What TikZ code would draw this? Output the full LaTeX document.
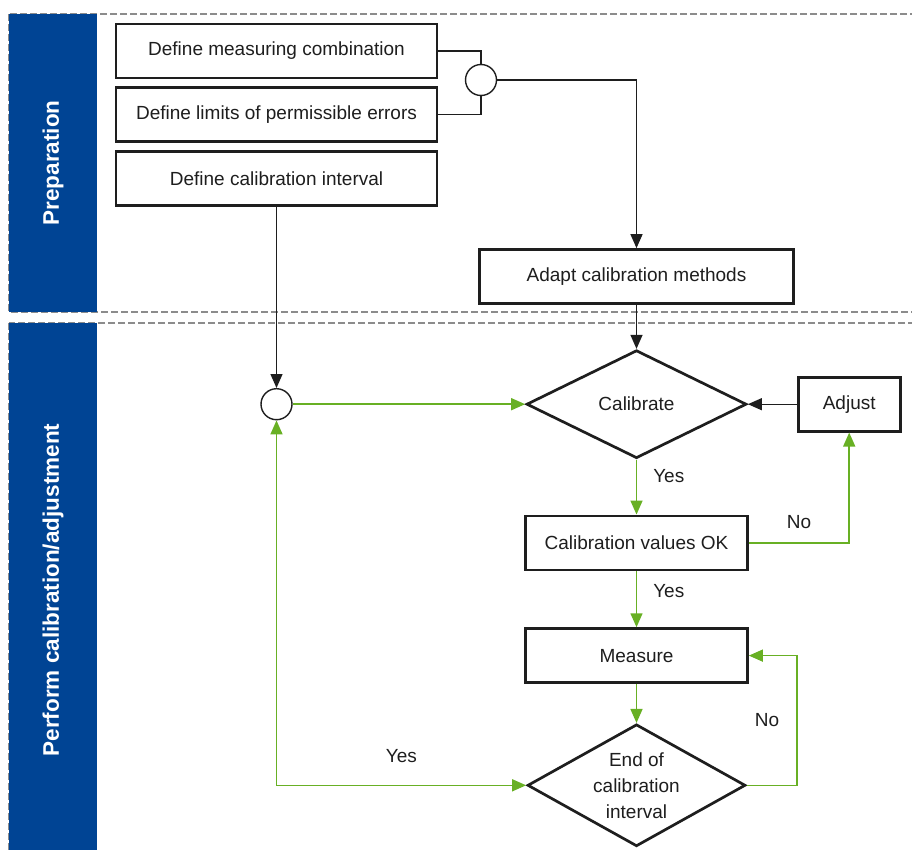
\documentclass[tikz,border=0pt]{standalone}
\usepackage{fontspec}
\setmainfont{Liberation Sans}
\usepackage{tikz}
\usetikzlibrary{arrows.meta,positioning,shapes.geometric}
\definecolor{laneblue}{RGB}{0,68,148}
\definecolor{flowgreen}{RGB}{104,176,36}
\definecolor{inkgray}{RGB}{30,30,30}
\definecolor{dashgray}{RGB}{140,140,140}

\begin{document}
\begin{tikzpicture}[
    x=1pt,
    y=-1pt,
    >={Triangle[length=14pt,width=12pt]}
]

\tikzset{
    stepbox/.style={
        draw=inkgray,
        line width=2.7pt,
        fill=white,
        minimum width=321pt,
        minimum height=54pt,
        inner sep=0pt,
        align=center,
        text=inkgray,
        font=\fontsize{19}{26}\selectfont
    },
    decision/.style={
        diamond,
        draw=inkgray,
        line width=2.7pt,
        fill=white,
        inner sep=0pt,
        shape aspect=1.8,
        align=center,
        text=inkgray,
        font=\fontsize{19}{26}\selectfont
    },
    junction/.style={
        circle,
        draw=inkgray,
        line width=1.4pt,
        fill=white,
        minimum size=31pt,
        inner sep=0pt
    },
    link/.style={
        draw=inkgray,
        line width=1.3pt
    },
    flow/.style={
        draw=flowgreen,
        line width=1.5pt
    },
    tag/.style={
        inner sep=0pt,
        text=inkgray,
        font=\fontsize{19}{26}\selectfont
    },
    lane/.style={
        fill=laneblue
    },
    lanetext/.style={
        rotate=90,
        text=white,
        font=\fontsize{22.5}{26}\selectfont\bfseries
    },
    section/.style={
        draw=dashgray,
        line width=1.2pt,
        dash pattern=on 7pt off 3pt
    }
}

\clip (0,0) rectangle (912,850);

\draw[section] (9,14) rectangle (930,312);
\draw[section] (9,323) rectangle (930,880);
\fill[lane] (9,14) rectangle (97,312);
\fill[lane] (9,323) rectangle (97,850);

\node[lanetext] (prepLabel) at (53,163) {Preparation};
\node[lanetext] (performLabel) at (53,590) {Perform calibration/adjustment};

\node[stepbox] (combi) at (276.5,51)
{Define measuring combination};

\node[
    stepbox,
    below=7pt of combi
] (limits)
{Define limits of permissible errors};

\node[
    stepbox,
    below=7pt of limits
] (interval)
{Define calibration interval};

\node[junction] (join) at (481,80) {};

\node[
    stepbox,
    minimum width=314pt
] (adapt) at (636.5,276.5)
{Adapt calibration methods};

\node[
    decision,
    below=44pt of adapt,
    minimum width=220pt,
    minimum height=108pt
] (calib)
{Calibrate};

\node[
    stepbox,
    right=49pt of calib,
    minimum width=102pt
] (adjust)
{Adjust};

\node[
    stepbox,
    below=55pt of calib,
    minimum width=222pt
] (ok)
{Calibration values OK};

\node[
    stepbox,
    below=56pt of ok,
    minimum width=222pt
] (measure)
{Measure};

\node[
    decision,
    below=39pt of measure,
    minimum width=218pt,
    minimum height=122pt
] (stop)
{End of\\calibration\\interval};

\node[junction] (gate) at (interval |- calib) {};

\draw[link]
(combi.east) -| (join.north);

\draw[link]
(limits.east) -| (join.south);

\draw[link,->]
(join.east) -| (adapt.north);

\draw[link,->]
(adapt) -- (calib);

\draw[link,->]
(interval) -- (gate);

\draw[link,->]
(adjust) -- (calib);

\draw[flow,->]
(gate) -- (calib);

\draw[flow,->]
(calib) -- node[tag, pos=0.3, right=16pt] {Yes} (ok);

\draw[flow,->]
(ok.east) -| node[tag, pos=0.25, above=13pt] {No} (adjust.south);

\draw[flow,->]
(ok) -- node[tag, pos=0.35, right=16pt] {Yes} (measure);

\draw[flow,->]
(measure) -- (stop);

\draw[flow,->]
(stop.east) -- ++(50,0) |- node[tag, pos=0.25, left=17pt] {No} (measure.east);

\draw[flow,<->]
(gate.south) |- node[tag, pos=0.75, above=22pt] {Yes} (stop.west);

\end{tikzpicture}
\end{document}
